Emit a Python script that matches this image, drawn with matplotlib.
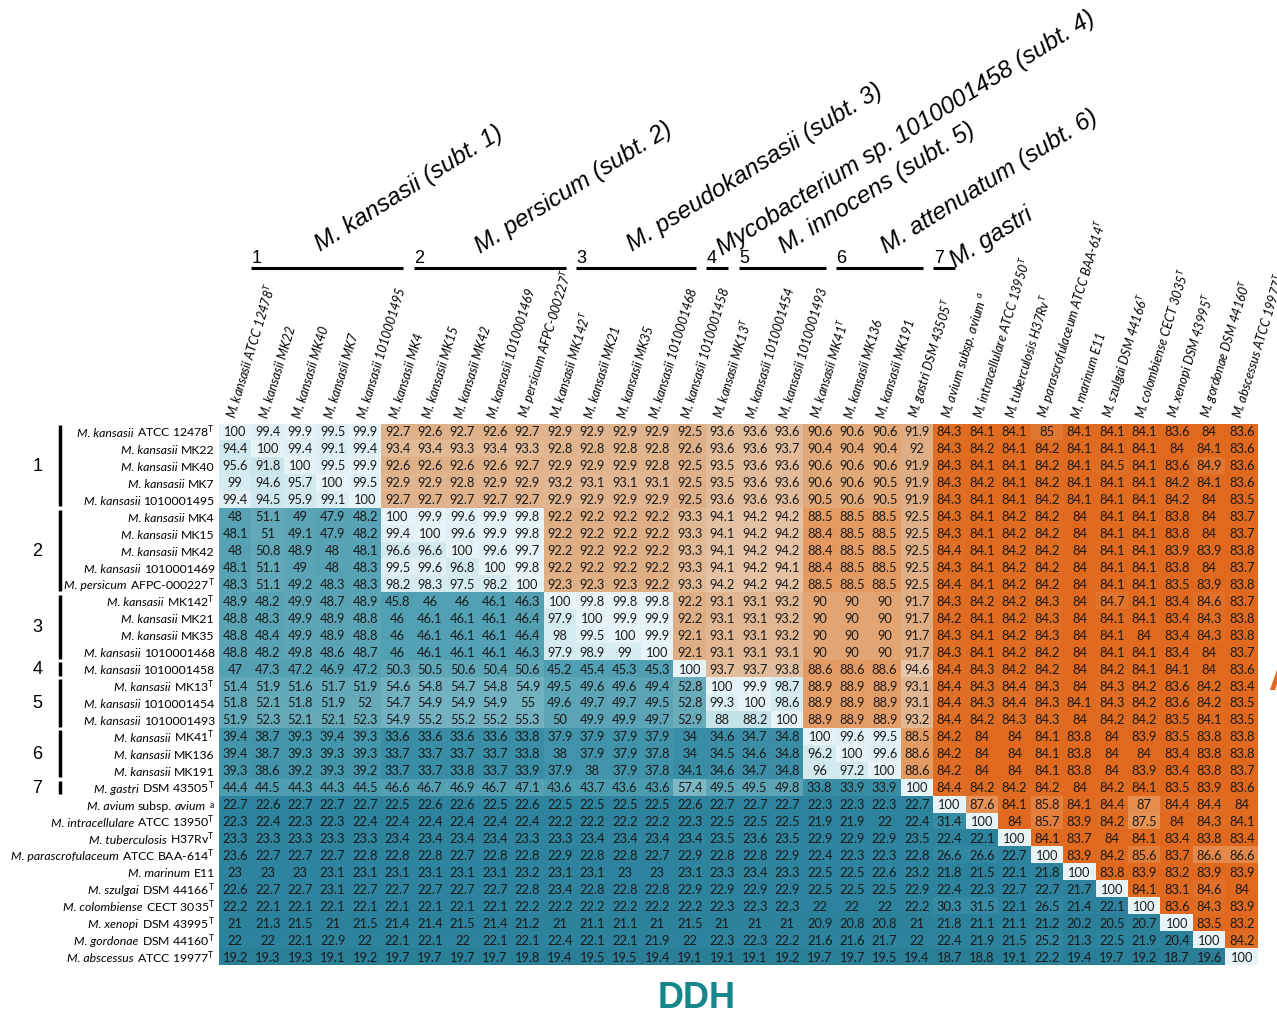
import numpy as np
import matplotlib
matplotlib.use("Agg")
import matplotlib.pyplot as plt
from matplotlib.colors import LinearSegmentedColormap, Normalize

plt.rcParams['font.family'] = ['Lato', 'DejaVu Sans']
plt.rcParams['mathtext.fontset'] = 'custom'
plt.rcParams['mathtext.it'] = 'Lato:italic'
plt.rcParams['mathtext.rm'] = 'Lato'
plt.rcParams['mathtext.bf'] = 'Lato:bold'

# ---------------- data ----------------
species = ["M. kansasii"] * 9 + ["M. persicum"] + ["M. kansasii"] * 11 + [
    "M. gastri", "M. avium subsp. avium", "M. intracellulare", "M. tuberculosis",
    "M. parascrofulaceum", "M. marinum", "M. szulgai", "M. colombiense",
    "M. xenopi", "M. gordonae", "M. abscessus"]
strains = ["ATCC 12478", "MK22", "MK40", "MK7", "1010001495",
           "MK4", "MK15", "MK42", "1010001469", "AFPC-000227",
           "MK142", "MK21", "MK35", "1010001468", "1010001458",
           "MK13", "1010001454", "1010001493", "MK41", "MK136", "MK191",
           "DSM 43505", "", "ATCC 13950", "H37Rv", "ATCC BAA-614", "E11",
           "DSM 44166", "CECT 3035", "DSM 43995", "DSM 44160", "ATCC 19977"]
sups = ["T", "", "", "", "", "", "", "", "", "T", "T", "", "", "", "", "T", "", "",
        "T", "", "", "T", "a", "T", "T", "T", "", "T", "T", "T", "T", "T"]

# groups: (first row, last row, number)
groups = [(0, 4, "1"), (5, 9, "2"), (10, 13, "3"), (14, 14, "4"),
          (15, 17, "5"), (18, 20, "6"), (21, 21, "7")]
group_names = ["M. kansasii (subt. 1)", "M. persicum (subt. 2)",
               "M. pseudokansasii (subt. 3)", "Mycobacterium sp. 1010001458 (subt. 4)",
               "M. innocens (subt. 5)", "M. attenuatum (subt. 6)", "M. gastri"]

# lower triangle = DDH, upper triangle = ANI
matrix = [
 [100,99.4,99.9,99.5,99.9,92.7,92.6,92.7,92.6,92.7,92.9,92.9,92.9,92.9,92.5,93.6,93.6,93.6,90.6,90.6,90.6,91.9,84.3,84.1,84.1,85,84.1,84.1,84.1,83.6,84,83.6],
 [94.4,100,99.4,99.1,99.4,93.4,93.4,93.3,93.4,93.3,92.8,92.8,92.8,92.8,92.6,93.6,93.6,93.7,90.4,90.4,90.4,92,84.3,84.2,84.1,84.2,84.1,84.1,84.1,84,84.1,83.6],
 [95.6,91.8,100,99.5,99.9,92.6,92.6,92.6,92.6,92.7,92.9,92.9,92.9,92.8,92.5,93.5,93.6,93.6,90.6,90.6,90.6,91.9,84.3,84.1,84.1,84.2,84.1,84.5,84.1,83.6,84.9,83.6],
 [99,94.6,95.7,100,99.5,92.9,92.9,92.8,92.9,92.9,93.2,93.1,93.1,93.1,92.5,93.5,93.6,93.6,90.6,90.6,90.5,91.9,84.3,84.2,84.1,84.2,84.1,84.1,84.1,84.2,84.1,83.6],
 [99.4,94.5,95.9,99.1,100,92.7,92.7,92.7,92.7,92.7,92.9,92.9,92.9,92.9,92.5,93.6,93.6,93.6,90.5,90.6,90.5,91.9,84.3,84.1,84.1,84.2,84.1,84.1,84.1,84.2,84,83.5],
 [48,51.1,49,47.9,48.2,100,99.9,99.6,99.9,99.8,92.2,92.2,92.2,92.2,93.3,94.1,94.2,94.2,88.5,88.5,88.5,92.5,84.3,84.1,84.2,84.2,84,84.1,84.1,83.8,84,83.7],
 [48.1,51,49.1,47.9,48.2,99.4,100,99.6,99.9,99.8,92.2,92.2,92.2,92.2,93.3,94.1,94.2,94.2,88.4,88.5,88.5,92.5,84.3,84.1,84.2,84.2,84,84.1,84.1,83.8,84,83.7],
 [48,50.8,48.9,48,48.1,96.6,96.6,100,99.6,99.7,92.2,92.2,92.2,92.2,93.3,94.1,94.2,94.2,88.4,88.5,88.5,92.5,84.4,84.1,84.2,84.2,84,84.1,84.1,83.9,83.9,83.8],
 [48.1,51.1,49,48,48.3,99.5,99.6,96.8,100,99.8,92.2,92.2,92.2,92.2,93.3,94.1,94.2,94.1,88.4,88.5,88.5,92.5,84.3,84.1,84.2,84.2,84,84.1,84.1,83.8,84,83.7],
 [48.3,51.1,49.2,48.3,48.3,98.2,98.3,97.5,98.2,100,92.3,92.3,92.3,92.2,93.3,94.2,94.2,94.2,88.5,88.5,88.5,92.5,84.4,84.1,84.2,84.2,84,84.1,84.1,83.5,83.9,83.8],
 [48.9,48.2,49.9,48.7,48.9,45.8,46,46,46.1,46.3,100,99.8,99.8,99.8,92.2,93.1,93.1,93.2,90,90,90,91.7,84.3,84.2,84.2,84.3,84,84.7,84.1,83.4,84.6,83.7],
 [48.8,48.3,49.9,48.9,48.8,46,46.1,46.1,46.1,46.4,97.9,100,99.9,99.9,92.2,93.1,93.1,93.2,90,90,90,91.7,84.2,84.1,84.2,84.3,84,84.1,84.1,83.4,84.3,83.8],
 [48.8,48.4,49.9,48.9,48.8,46,46.1,46.1,46.1,46.4,98,99.5,100,99.9,92.1,93.1,93.1,93.2,90,90,90,91.7,84.3,84.1,84.2,84.3,84,84.1,84,83.4,84.3,83.8],
 [48.8,48.2,49.8,48.6,48.7,46,46.1,46.1,46.1,46.3,97.9,98.9,99,100,92.1,93.1,93.1,93.1,90,90,90,91.7,84.3,84.1,84.2,84.2,84,84.1,84.1,83.4,84,83.7],
 [47,47.3,47.2,46.9,47.2,50.3,50.5,50.6,50.4,50.6,45.2,45.4,45.3,45.3,100,93.7,93.7,93.8,88.6,88.6,88.6,94.6,84.4,84.3,84.2,84.2,84,84.2,84.1,84.1,84,83.6],
 [51.4,51.9,51.6,51.7,51.9,54.6,54.8,54.7,54.8,54.9,49.5,49.6,49.6,49.4,52.8,100,99.9,98.7,88.9,88.9,88.9,93.1,84.4,84.3,84.4,84.3,84,84.3,84.2,83.6,84.2,83.4],
 [51.8,52.1,51.8,51.9,52,54.7,54.9,54.9,54.9,55,49.6,49.7,49.7,49.5,52.8,99.3,100,98.6,88.9,88.9,88.9,93.1,84.4,84.3,84.4,84.3,84.1,84.3,84.2,83.6,84.2,83.5],
 [51.9,52.3,52.1,52.1,52.3,54.9,55.2,55.2,55.2,55.3,50,49.9,49.9,49.7,52.9,88,88.2,100,88.9,88.9,88.9,93.2,84.4,84.2,84.3,84.3,84,84.2,84.2,83.5,84.1,83.5],
 [39.4,38.7,39.3,39.4,39.3,33.6,33.6,33.6,33.6,33.8,37.9,37.9,37.9,37.9,34,34.6,34.7,34.8,100,99.6,99.5,88.5,84.2,84,84,84.1,83.8,84,83.9,83.5,83.8,83.8],
 [39.4,38.7,39.3,39.3,39.3,33.7,33.7,33.7,33.7,33.8,38,37.9,37.9,37.8,34,34.5,34.6,34.8,96.2,100,99.6,88.6,84.2,84,84,84.1,83.8,84,84,83.4,83.8,83.8],
 [39.3,38.6,39.2,39.3,39.2,33.7,33.7,33.8,33.7,33.9,37.9,38,37.9,37.8,34.1,34.6,34.7,34.8,96,97.2,100,88.6,84.2,84,84,84.1,83.8,84,83.9,83.4,83.8,83.7],
 [44.4,44.5,44.3,44.3,44.5,46.6,46.7,46.9,46.7,47.1,43.6,43.7,43.6,43.6,57.4,49.5,49.5,49.8,33.8,33.9,33.9,100,84.4,84.2,84.2,84.2,84,84.2,84.1,83.5,83.9,83.6],
 [22.7,22.6,22.7,22.7,22.7,22.5,22.6,22.6,22.5,22.6,22.5,22.5,22.5,22.5,22.6,22.7,22.7,22.7,22.3,22.3,22.3,22.7,100,87.6,84.1,85.8,84.1,84.4,87,84.4,84.4,84],
 [22.3,22.4,22.3,22.3,22.4,22.4,22.4,22.4,22.4,22.4,22.2,22.2,22.2,22.2,22.3,22.5,22.5,22.5,21.9,21.9,22,22.4,31.4,100,84,85.7,83.9,84.2,87.5,84,84.3,84.1],
 [23.3,23.3,23.3,23.3,23.3,23.4,23.4,23.4,23.4,23.3,23.3,23.4,23.4,23.4,23.4,23.5,23.6,23.5,22.9,22.9,22.9,23.5,22.4,22.1,100,84.1,83.7,84,84.1,83.4,83.8,83.4],
 [23.6,22.7,22.7,22.7,22.8,22.8,22.8,22.7,22.8,22.8,22.9,22.8,22.8,22.7,22.9,22.8,22.8,22.9,22.4,22.3,22.3,22.8,26.6,26.6,22.7,100,83.9,84.2,85.6,83.7,86.6,86.6],
 [23,23,23,23.1,23.1,23.1,23.1,23.1,23.1,23.2,23.1,23.1,23,23,23.1,23.3,23.4,23.3,22.5,22.5,22.6,23.2,21.8,21.5,22.1,21.8,100,83.8,83.9,83.2,83.9,83.9],
 [22.6,22.7,22.7,23.1,22.7,22.7,22.7,22.7,22.7,22.8,23.4,22.8,22.8,22.8,22.9,22.9,22.9,22.9,22.5,22.5,22.5,22.9,22.4,22.3,22.7,22.7,21.7,100,84.1,83.1,84.6,84],
 [22.2,22.1,22.1,22.1,22.1,22.1,22.1,22.1,22.1,22.2,22.2,22.2,22.2,22.2,22.2,22.3,22.3,22.3,22,22,22,22.2,30.3,31.5,22.1,26.5,21.4,22.1,100,83.6,84.3,83.9],
 [21,21.3,21.5,21,21.5,21.4,21.4,21.5,21.4,21.2,21,21.1,21.1,21,21.5,21,21,21,20.9,20.8,20.8,21,21.8,21.1,21.1,21.2,20.2,20.5,20.7,100,83.5,83.2],
 [22,22,22.1,22.9,22,22.1,22.1,22,22.1,22.1,22.4,22.1,22.1,21.9,22,22.3,22.3,22.2,21.6,21.6,21.7,22,22.4,21.9,21.5,25.2,21.3,22.5,21.9,20.4,100,84.2],
 [19.2,19.3,19.3,19.1,19.2,19.7,19.7,19.7,19.7,19.8,19.4,19.5,19.5,19.4,19.1,19.1,19.1,19.2,19.7,19.7,19.5,19.4,18.7,18.8,19.1,22.2,19.4,19.7,19.2,18.7,19.6,100],
]

# ---------------- colour scales ----------------
ddh_norm = Normalize(19, 100)
ddh_cmap = LinearSegmentedColormap.from_list("ddh", [
    (0.0, "#2a7e98"), (0.037, "#2e849e"), (0.185, "#3a8ea6"), (0.333, "#52a0b3"),
    (0.383, "#5ea6b7"), (0.474, "#7cb7c5"), (0.852, "#c5e2ea"), (0.988, "#d6ecf2"),
    (1.0, "#e6f3f7")])
ani_norm = Normalize(84, 95.5)
ani_cmap = LinearSegmentedColormap.from_list("ani", [
    (0.0, "#e0691f"), (1/11.5, "#e27833"), (3/11.5, "#e58e50"), (4.5/11.5, "#e59b62"),
    (6.5/11.5, "#e2a878"), (8.5/11.5, "#dfb088"), (9.7/11.5, "#e3bd9c"), (1.0, "#ead0b8")])

W, H = 1277, 1017
fig = plt.figure(figsize=(W / 100, H / 100), dpi=100)
ax = fig.add_axes([219 / W, 1 - 965.5 / H, 1039 / W, 542 / H])

M = np.array(matrix, dtype=float)
n = M.shape[0]
ii, jj = np.indices(M.shape)
blue = (ii >= jj) | (M >= 96)
ax.imshow(np.ma.masked_where(~blue, M), cmap=ddh_cmap, norm=ddh_norm,
          aspect="auto", interpolation="nearest")
ax.imshow(np.ma.masked_where(blue, M), cmap=ani_cmap, norm=ani_norm,
          aspect="auto", interpolation="nearest")
ax.set_xlim(-0.5, n - 0.5)
ax.set_ylim(n - 0.5, -0.5)
ax.axis("off")

for i in range(n):
    for j in range(n):
        ax.text(j, i + 0.03, f"{M[i, j]:g}", ha="center", va="center",
                fontsize=9.3, color="#1a1a1a")


def row_pieces(sp, st, su):
    pieces = []
    words = sp.split(" ")
    if "subsp." in words:
        k = words.index("subsp.")
        pieces.append((" ".join(words[:k]), "italic"))
        pieces.append(("subsp.", "normal"))
        pieces.append((" ".join(words[k + 1:]), "italic"))
    else:
        pieces.append((sp, "italic"))
    tail = st
    if su:
        tail += r"$^{\mathrm{" + su + "}}$"
    pieces.append((tail, "normal"))
    return pieces


def col_label(sp, st, su):
    s = " ".join([w for w in [sp, st] if w])
    if su:
        s += (" " if not st else "") + r"$^{" + su + "}$"
    return s


for i in range(n):
    pieces = row_pieces(species[i], strains[i], sups[i])
    yb = i + 0.30
    prev = None
    for txt, style in reversed(pieces):
        if prev is None:
            prev = ax.text(-0.63, yb, txt, ha="right", va="baseline",
                           fontsize=8.8, fontstyle=style, clip_on=False)
        else:
            prev = ax.annotate(txt, xy=(0, yb), xycoords=(prev, "data"),
                               xytext=(-2.3, 0), textcoords="offset points",
                               ha="right", va="baseline", fontsize=8.8,
                               fontstyle=style, annotation_clip=False)
    ax.text(i + 0.02, -0.75, col_label(species[i], strains[i], sups[i]),
            ha="left", va="baseline", rotation=73, rotation_mode="anchor",
            fontsize=9.2, fontstyle="italic", clip_on=False)

# left group bars and numbers
for a, b, lab in groups:
    ax.plot([-5.4, -5.4], [a - 0.4, b + 0.4], color="black", lw=2.5,
            clip_on=False, solid_capstyle="butt")
    ax.text(-6.1, (a + b) / 2 + 0.05, lab, ha="center", va="center",
            fontsize=13, family="Liberation Sans", clip_on=False)

# top group bars and numbers
ytop = -9.68
for a, b, lab in groups:
    x0 = a - 0.5 + 1.0
    x1 = b + 0.5 + 0.68
    ax.plot([x0, x1], [ytop, ytop], color="black", lw=2.2, clip_on=False,
            solid_capstyle="butt")
    ax.text(x0 + 0.02, ytop - 0.3, lab, ha="left", va="baseline",
            fontsize=13, family="Liberation Sans", clip_on=False)

# rotated group names (baseline-left positions in pixels)
name_px = [(320, 252), (480, 254), (632, 252), (722, 256), (784, 254), (886, 254), (955, 268)]
for (px, py), name in zip(name_px, group_names):
    fig.text(px / W, 1 - py / H, name, ha="left", va="baseline", rotation=32,
             rotation_mode="anchor", fontsize=17.5, fontstyle="italic",
             family="Liberation Sans")

fig.text(697 / W, 1 - 999 / H, "DDH", ha="center", va="center", fontsize=26,
         fontweight="bold", color="#17868a", family="Liberation Sans")
fig.text(1268 / W, 1 - 680 / H, "ANI", ha="left", va="center", fontsize=26,
         fontweight="bold", color="#e0691f", family="Liberation Sans")

fig.savefig("out.png", dpi=100)
